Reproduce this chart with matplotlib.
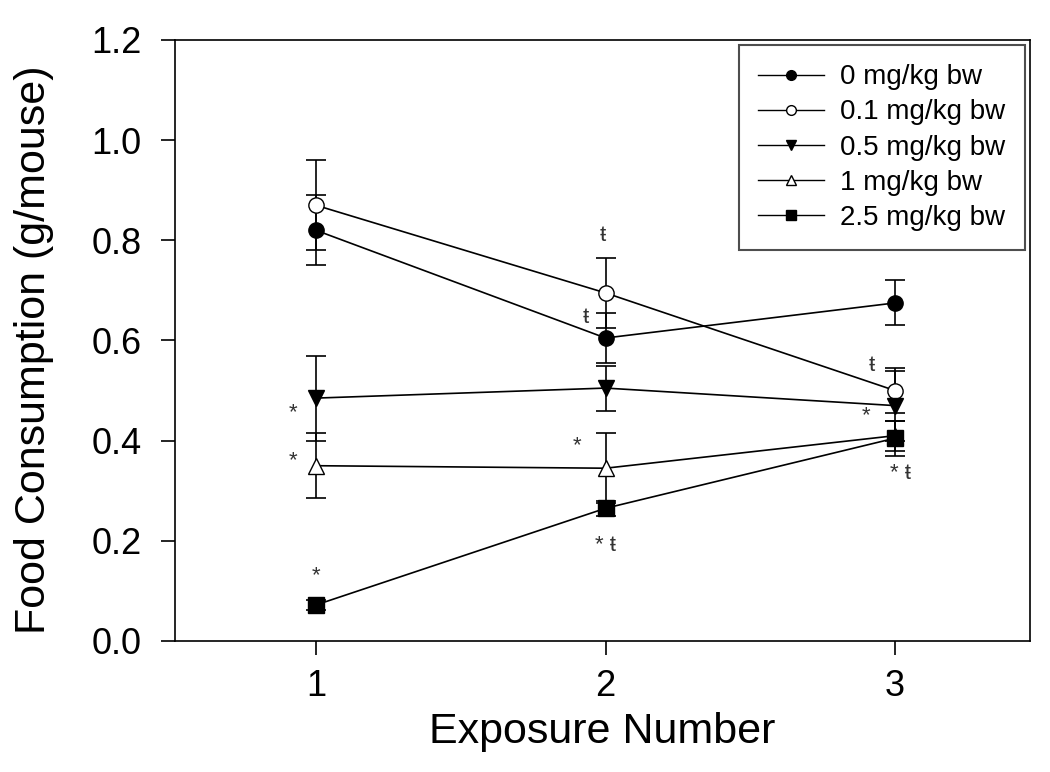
import matplotlib
matplotlib.use("Agg")
import matplotlib.pyplot as plt
from matplotlib.lines import Line2D
import numpy as np

plt.rcParams['font.family'] = ['Liberation Sans', 'DejaVu Sans']

# === Data ===
exposure = [1, 2, 3]
labels = ['0 mg/kg bw', '0.1 mg/kg bw', '0.5 mg/kg bw', '1 mg/kg bw', '2.5 mg/kg bw']
dose0 = [0.82, 0.605, 0.675]
dose0_err = [0.07, 0.05, 0.045]
dose01 = [0.87, 0.695, 0.50]
dose01_err = [0.09, 0.07, 0.045]
dose05 = [0.485, 0.505, 0.47]
dose05_err = [0.085, 0.045, 0.07]
dose1 = [0.35, 0.345, 0.41]
dose1_err = [0.065, 0.07, 0.03]
dose25 = [0.072, 0.265, 0.405]
dose25_err = [0.01, 0.015, 0.035]

# significance marks: (x, y, text)
marks = [(0.92, 0.455, '*'), (0.92, 0.36, '*'), (1.0, 0.13, '*'),
         (1.99, 0.81, 'ŧ'), (1.93, 0.645, 'ŧ'), (1.9, 0.39, '*'), (2.0, 0.19, '* ŧ'),
         (2.92, 0.55, 'ŧ'), (2.9, 0.45, '*'), (3.02, 0.335, '* ŧ')]

series = [(dose0, dose0_err, 'o', 'k'), (dose01, dose01_err, 'o', 'w'),
          (dose05, dose05_err, 'v', 'k'), (dose1, dose1_err, '^', 'w'),
          (dose25, dose25_err, 's', 'k')]

fig = plt.figure(figsize=(10.5, 7.72), dpi=100)
ax = fig.add_axes([175/1050, 1-641/772, 855/1050, 601/772])

handles = []
for (vals, err, m, fc), lab in zip(series, labels):
    ax.errorbar(exposure, vals, yerr=err, marker=m, color='k', mfc=fc, mec='k',
                ms=11, lw=1.2, elinewidth=1.2, capsize=7, capthick=1.2)
    handles.append(Line2D([], [], marker=m, color='k', mfc=fc, mec='k', ms=7, lw=1.0, label=lab))

for x, y, t in marks:
    ax.text(x, y, t, ha='center', va='center', fontsize=16, color='#333333')

ax.set_xlim(0.513, 3.466)
ax.set_ylim(0, 1.2)
ax.set_xticks([1, 2, 3])
ax.set_yticks(np.arange(0, 1.21, 0.2))
ax.set_yticklabels(['%.1f' % v for v in np.arange(0, 1.21, 0.2)])
ax.tick_params(labelsize=26, direction='out', length=10, width=1.2, top=False, right=False)
ax.tick_params(axis='y', pad=14)
ax.tick_params(axis='x', pad=10)
ax.set_xlabel('Exposure Number', fontsize=31)
ax.set_ylabel('Food Consumption (g/mouse)', fontsize=31)
ax.xaxis.set_label_coords(0.5, -0.118)
ax.yaxis.set_label_coords(-0.1415, 0.484)
for s in ax.spines.values():
    s.set_linewidth(1.2)

leg = ax.legend(handles=handles, loc='upper right', fontsize=20, frameon=True, fancybox=False,
                edgecolor='#222222', handlelength=2.35, handletextpad=0.6, labelspacing=0.33,
                borderpad=0.7, borderaxespad=0, bbox_to_anchor=(0.994, 0.992))
leg.get_frame().set_linewidth(1.5)

fig.savefig('out.png', dpi=100)
